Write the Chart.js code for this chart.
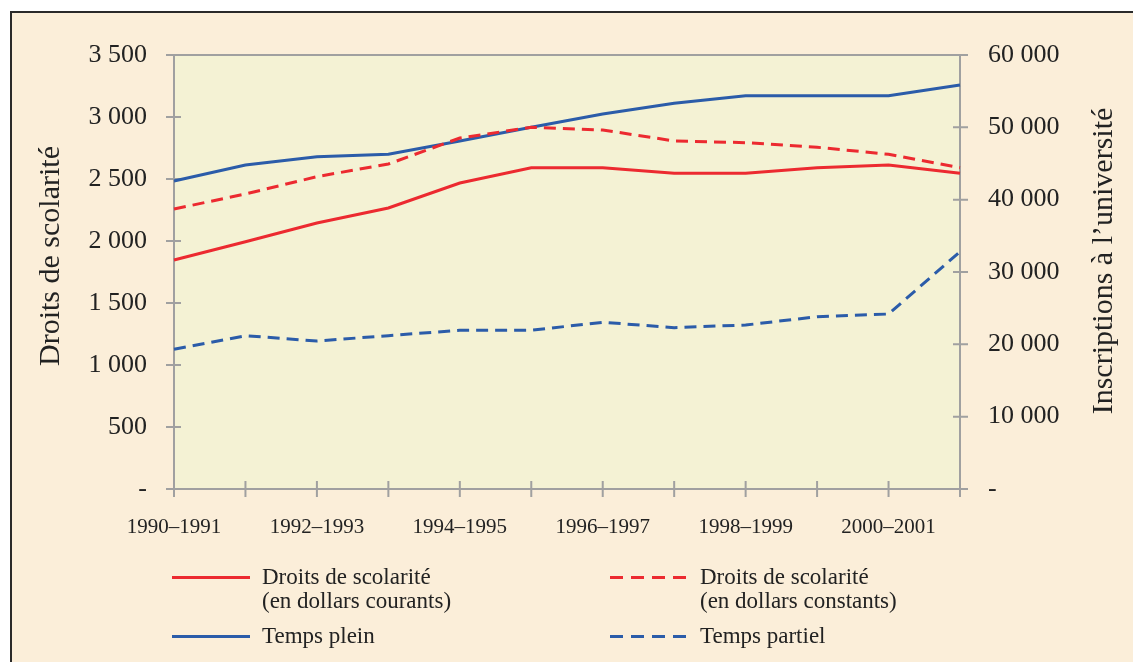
<!DOCTYPE html>
<html lang="fr">
<head>
<meta charset="utf-8">
<script src="https://cdn.jsdelivr.net/npm/chart.js@4.4.1/dist/chart.umd.min.js"></script>
<style>
  body { margin: 0; background: #fff; font-family: 'Liberation Serif', serif; }
  #cadre { position: absolute; left: 10px; top: 11px; width: 1140px; height: 660px;
           border-left: 2px solid #2a2a2a; border-top: 2px solid #2a2a2a; background: #fbeed9; }
  #graphique { position: absolute; left: 0; top: 0; }
  #legende { position: absolute; left: 0; top: 0; width: 1133px; height: 662px; pointer-events: none;
             color: #222; font-size: 23px; line-height: 24px; }
  .trait { position: absolute; width: 78px; height: 3px; }
  .texte { position: absolute; white-space: nowrap; }
</style>
</head>
<body>
<div id="cadre"></div>
<canvas id="graphique" width="1133" height="662"></canvas>
<div id="legende"></div>
<script>
// Données
var annees = ['1990–1991', '1991–1992', '1992–1993', '1993–1994', '1994–1995', '1995–1996',
              '1996–1997', '1997–1998', '1998–1999', '1999–2000', '2000–2001', '2001–2002'];
var droitsCourants = [1847, 1994, 2145, 2266, 2468, 2591, 2591, 2546, 2546, 2591, 2613, 2546];
var droitsConstants = [2258, 2379, 2519, 2621, 2830, 2917, 2895, 2807, 2793, 2756, 2699, 2591];
var tempsPlein = [42580, 44790, 45940, 46270, 48110, 50000, 51840, 53320, 54380, 54380, 54380, 55850];
var tempsPartiel = [19310, 21190, 20460, 21200, 21940, 21940, 23050, 22310, 22670, 23820, 24190, 32810];

var rouge = '#ec2a30';
var bleu = '#2b5ca9';
var gris = '#a0a0a0';
var police = 'Liberation Serif';

// espace comme séparateur de milliers, tiret pour zéro
function formatNombre(v) {
  if (v === 0) return '-';
  return String(v).replace(/\B(?=(\d{3})+(?!\d))/g, ' ');
}

// fond de la zone de tracé + axes avec graduations des deux côtés
var fondEtAxes = {
  id: 'fondEtAxes',
  beforeDraw: function (chart) {
    var a = chart.chartArea, ctx = chart.ctx;
    ctx.save();
    ctx.fillStyle = '#f4f2d4';
    ctx.fillRect(a.left, a.top, a.right - a.left, a.bottom - a.top);
    ctx.restore();
  },
  beforeDatasetsDraw: function (chart) {
    var a = chart.chartArea, ctx = chart.ctx, s = chart.scales;
    ctx.save();
    ctx.strokeStyle = gris;
    ctx.lineWidth = 2;
    ctx.beginPath();
    ctx.moveTo(a.left - 8, a.top); ctx.lineTo(a.right + 8, a.top);
    ctx.moveTo(a.left - 8, a.bottom); ctx.lineTo(a.right + 8, a.bottom);
    ctx.moveTo(a.left, a.top); ctx.lineTo(a.left, a.bottom + 8);
    ctx.moveTo(a.right, a.top); ctx.lineTo(a.right, a.bottom + 8);
    s.y.ticks.forEach(function (t) {
      var p = s.y.getPixelForValue(t.value);
      ctx.moveTo(a.left - 8, p); ctx.lineTo(a.left + 7, p);
    });
    s.y1.ticks.forEach(function (t) {
      var p = s.y1.getPixelForValue(t.value);
      ctx.moveTo(a.right - 7, p); ctx.lineTo(a.right + 8, p);
    });
    s.x.ticks.forEach(function (t, i) {
      var p = s.x.getPixelForTick(i);
      ctx.moveTo(p, a.bottom - 8); ctx.lineTo(p, a.bottom + 8);
    });
    ctx.stroke();
    ctx.restore();
  },
  afterDraw: function (chart) {
    var ctx = chart.ctx;
    var titres = [
      { texte: 'Droits de scolarité', x: 51, y: 256 },
      { texte: 'Inscriptions à l\u2019université', x: 1104, y: 261 }
    ];
    titres.forEach(function (t) {
      ctx.save();
      ctx.fillStyle = '#222';
      ctx.font = '30px "' + police + '"';
      ctx.textAlign = 'center';
      ctx.textBaseline = 'middle';
      ctx.translate(t.x, t.y);
      ctx.rotate(-Math.PI / 2);
      ctx.fillText(t.texte, 0, 0);
      ctx.restore();
    });
  }
};

var ctx = document.getElementById('graphique').getContext('2d');
var graphique = new Chart(ctx, {
  type: 'line',
  data: {
    labels: annees,
    datasets: [
      { label: ['Droits de scolarité', '(en dollars courants)'], data: droitsCourants, yAxisID: 'y',
        borderColor: rouge, borderWidth: 3 },
      { label: ['Droits de scolarité', '(en dollars constants)'], data: droitsConstants, yAxisID: 'y',
        borderColor: rouge, borderWidth: 3, borderDash: [12, 7] },
      { label: ['Temps plein'], data: tempsPlein, yAxisID: 'y1',
        borderColor: bleu, borderWidth: 3 },
      { label: ['Temps partiel'], data: tempsPartiel, yAxisID: 'y1',
        borderColor: bleu, borderWidth: 3, borderDash: [12, 7] }
    ]
  },
  options: {
    responsive: false,
    animation: false,
    layout: { padding: { top: 55, left: 0, right: 0, bottom: 113 } },
    elements: { point: { radius: 0 }, line: { tension: 0 } },
    plugins: { legend: { display: false }, tooltip: { enabled: false } },
    scales: {
      x: {
        offset: false,
        grid: { display: false, drawTicks: false },
        border: { display: false },
        afterFit: function (s) { s.height = 60; },
        ticks: {
          autoSkip: false, maxRotation: 0, padding: 26, color: '#222',
          font: { family: police, size: 21 },
          callback: function (v, i) { return i % 2 === 0 ? annees[i] : ''; }
        }
      },
      y: {
        position: 'left', min: 0, max: 3500,
        grid: { display: false, drawTicks: false },
        border: { display: false },
        afterFit: function (s) { s.width = 174; },
        ticks: { stepSize: 500, padding: 27, color: '#222', font: { family: police, size: 26 },
                 callback: formatNombre }
      },
      y1: {
        position: 'right', min: 0, max: 60000,
        grid: { display: false, drawTicks: false },
        border: { display: false },
        afterFit: function (s) { s.width = 173; },
        ticks: { stepSize: 10000, padding: 28, color: '#222', font: { family: police, size: 26 },
                 callback: formatNombre }
      }
    }
  },
  plugins: [fondEtAxes]
});

// légende en HTML, à partir des séries
var positions = [
  { x: 172, y: 565 }, { x: 610, y: 565 },
  { x: 172, y: 624 }, { x: 610, y: 624 }
];
var legende = document.getElementById('legende');
graphique.data.datasets.forEach(function (ds, i) {
  var p = positions[i];
  var trait = document.createElement('div');
  trait.className = 'trait';
  trait.style.left = p.x + 'px';
  trait.style.top = (p.y + 11) + 'px';
  trait.style.background = ds.borderDash
    ? 'repeating-linear-gradient(90deg, ' + ds.borderColor + ' 0 13px, transparent 13px 21px)'
    : ds.borderColor;
  legende.appendChild(trait);
  var texte = document.createElement('div');
  texte.className = 'texte';
  texte.style.left = (p.x + 90) + 'px';
  texte.style.top = p.y + 'px';
  texte.innerHTML = ds.label.join('<br>');
  legende.appendChild(texte);
});
</script>
</body>
</html>
